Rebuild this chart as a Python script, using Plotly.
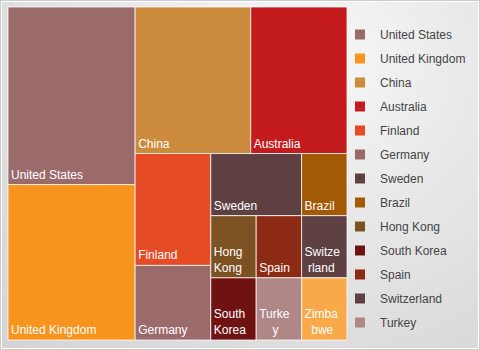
import plotly.graph_objects as go

# ---- data ----
countries = ["United States", "United Kingdom", "China", "Australia", "Finland",
             "Germany", "Sweden", "Brazil", "Hong Kong", "South Korea", "Spain",
             "Switzerland", "Turkey", "Zimbabwe"]
values = [8, 7, 6, 5, 3, 2, 2, 1, 1, 1, 1, 1, 1, 1]
NB = "\u00a0"
tile_text = ["United States", "United Kingdom", "China", "Australia", "Finland",
             "Germany", "Sweden", "Brazil", "Hong<br>Kong", "South<br>Korea", "Spain",
             "Switze<br>" + NB + "rland", "Turke<br>" + NB * 4 + "y",
             "Zimba<br>" + NB * 2 + "bwe"]
colors = ["#9B6A6B", "#F7941D", "#CC8B3C", "#C41B1F", "#E54B24",
          "#9B6A6B", "#5E4042", "#A35A06", "#7D5223", "#6F1212", "#8C2A14",
          "#5E4042", "#B08787", "#F9A84A"]
legend_items = countries[:13]

W, H = 480, 350

fig = go.Figure()

# background radial gradient panel (centre near upper middle-right)
cx, cy, hw, hh = 300 / W, 1 - 60 / H, 450 / W, 400 / H
fig.add_trace(go.Scatter(
    x=[cx - hw, cx + hw, cx + hw, cx - hw, cx - hw],
    y=[cy - hh, cy - hh, cy + hh, cy + hh, cy - hh],
    mode="lines", fill="toself",
    line=dict(width=0, color="rgba(0,0,0,0)"),
    fillgradient=dict(type="radial",
                      colorscale=[[0, "#f8f8f8"], [1, "#d2d2d2"]]),
    hoverinfo="skip", showlegend=False))

fig.add_trace(go.Treemap(
    labels=countries,
    parents=[""] * len(countries),
    values=values,
    text=tile_text,
    texttemplate="%{text}",
    textposition="bottom left",
    textfont=dict(family="Liberation Sans, Arial", size=12, color="white"),
    marker=dict(colors=colors, line=dict(width=1, color="rgba(255,255,255,0.75)"),
                pad=dict(t=0, l=0, r=0, b=0)),
    tiling=dict(packing="squarify", squarifyratio=1, pad=0),
    pathbar=dict(visible=False),
    sort=True,
    domain=dict(x=[8 / W, 347 / W], y=[1 - 340 / H, 1 - 7 / H]),
    hoverinfo="label+value",
))

for name in legend_items:
    c = colors[countries.index(name)]
    fig.add_trace(go.Scatter(
        x=[None], y=[None], mode="markers", name=name, legendgroup=name,
        marker=dict(symbol="square", size=10, color=c)))

fig.update_layout(
    width=W, height=H,
    margin=dict(l=0, r=0, t=0, b=0),
    paper_bgcolor="#e6e6e6",
    plot_bgcolor="rgba(0,0,0,0)",
    xaxis=dict(visible=False, range=[0, 1], domain=[0, 1], fixedrange=True),
    yaxis=dict(visible=False, range=[0, 1], domain=[0, 1], fixedrange=True),
    showlegend=True,
    legend=dict(x=340 / W, xanchor="left", y=1 - 20 / H, yanchor="top",
                bgcolor="rgba(0,0,0,0)", tracegroupgap=5,
                font=dict(family="Liberation Sans, Arial", size=12, color="#444444")),
    shapes=[
        dict(type="rect", xref="paper", yref="paper", x0=0.5 / W, x1=1 - 0.5 / W,
             y0=0.5 / H, y1=1 - 0.5 / H, line=dict(color="#cccccc", width=1)),
        dict(type="rect", xref="paper", yref="paper", x0=1.5 / W, x1=1 - 1.5 / W,
             y0=1.5 / H, y1=1 - 1.5 / H, line=dict(color="#ffffff", width=1)),
    ],
)

fig.write_html("out.html", config={"displayModeBar": False},
               post_script="document.body.style.margin='0px';document.body.style.padding='0px';")
